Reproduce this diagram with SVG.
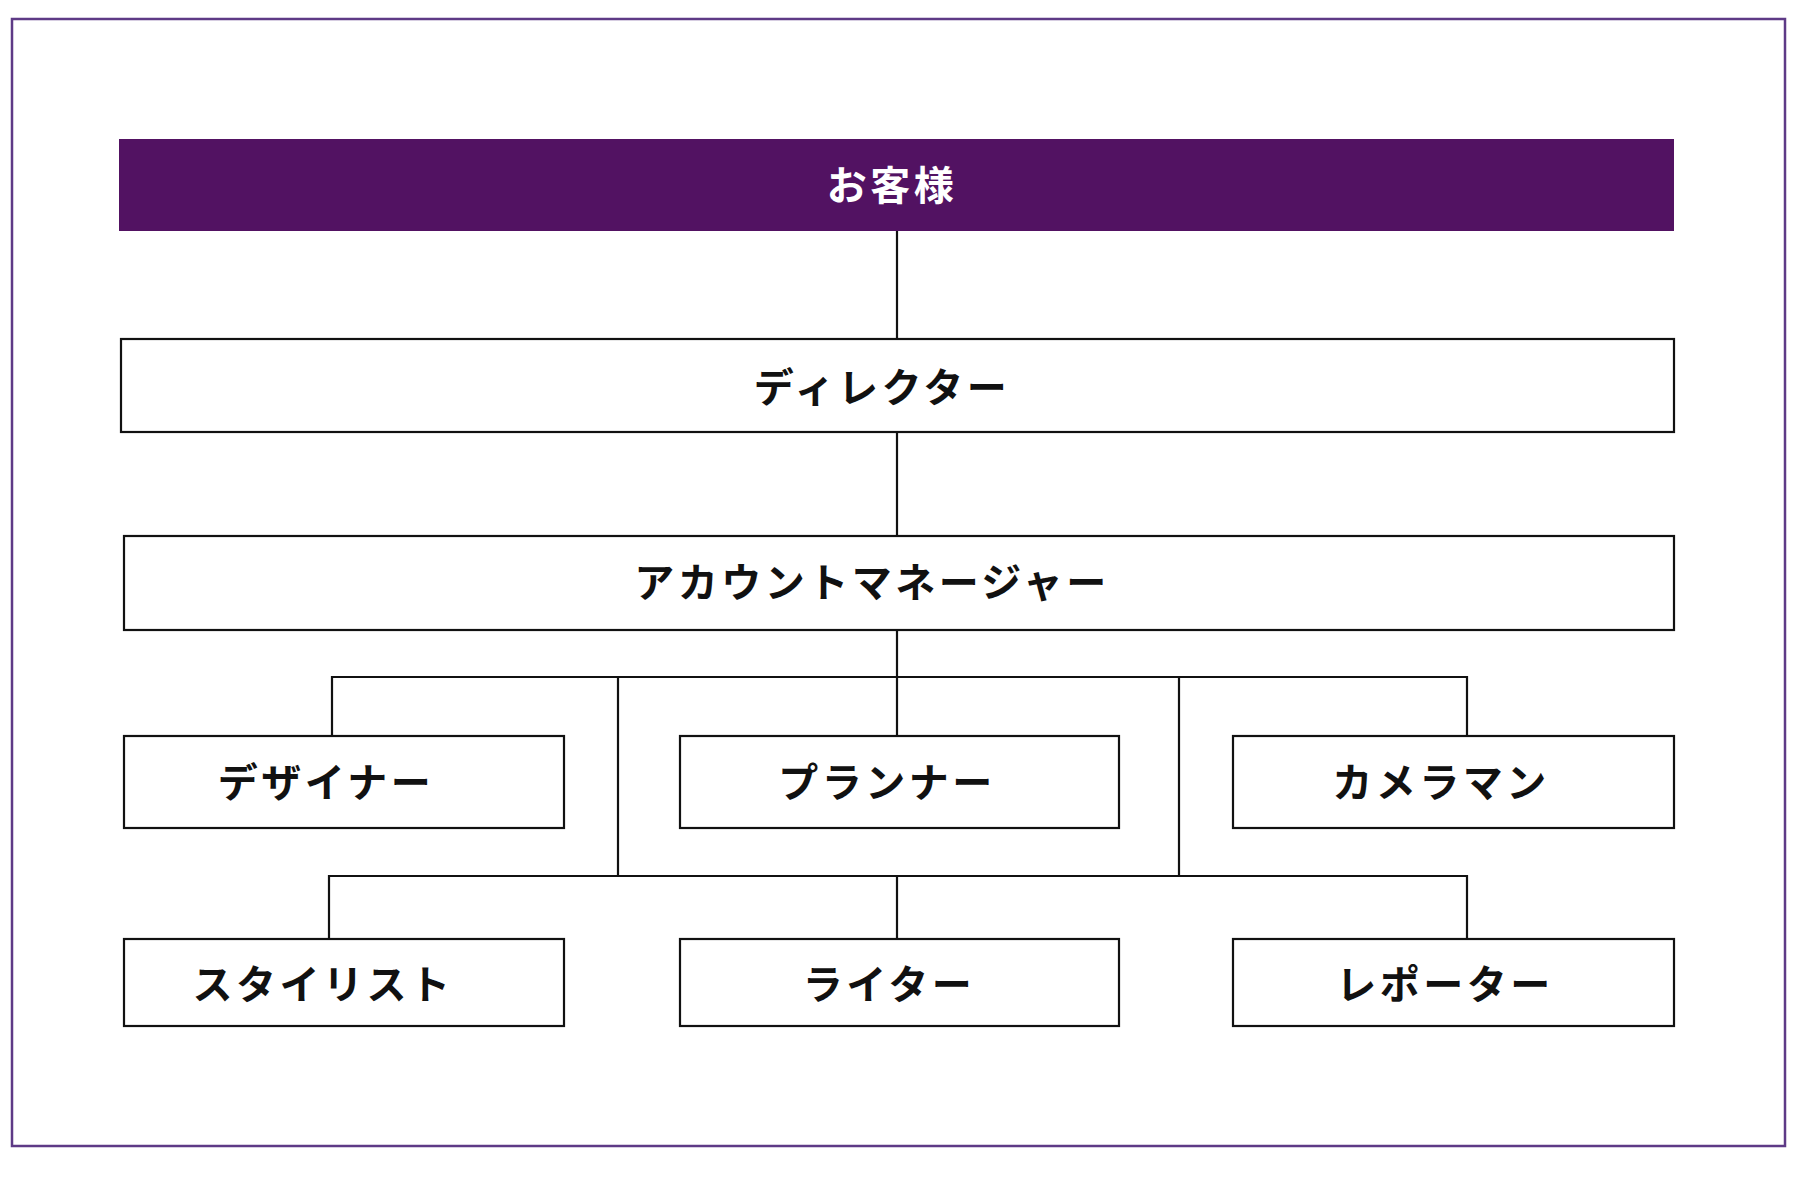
<svg xmlns="http://www.w3.org/2000/svg" width="1800" height="1177" viewBox="0 0 1800 1177">
<style>
.box{fill:#ffffff;stroke:#111111;stroke-width:2.2}
.top{fill:#521262}
.lbl{font-family:"Noto Sans CJK JP","Noto Sans",sans-serif;font-size:40px;font-weight:600;letter-spacing:3.5px;fill:#111111;text-anchor:middle;dominant-baseline:central}
.wlbl{fill:#ffffff;font-weight:700}
.conn{fill:none;stroke:#111111;stroke-width:2.2}
</style>
<rect x="0" y="0" width="1800" height="1177" fill="#ffffff"/>
<rect x="12" y="19" width="1773" height="1127" fill="#ffffff" stroke="#5e3a86" stroke-width="2.5"/>
<g id="connectors">
<path class="conn" d="M897 231V339M897 432V536M897 630V736M332 736V677H1467V736M618 677V876M1179 677V876M329 939V876H1467V939M897 876V939"/>
</g>
<g id="customer">
<rect class="top" x="119" y="139" width="1555" height="92"/>
<text class="lbl wlbl" x="892" y="183">お客様</text>
</g>
<g id="director">
<rect class="box" x="121" y="339" width="1553" height="93"/>
<text class="lbl" x="882" y="385">ディレクター</text>
</g>
<g id="account-manager">
<rect class="box" x="124" y="536" width="1550" height="94"/>
<text class="lbl" x="872" y="580">アカウントマネージャー</text>
</g>
<g id="designer">
<rect class="box" x="124" y="736" width="440" height="92"/>
<text class="lbl" x="326" y="780">デザイナー</text>
</g>
<g id="planner">
<rect class="box" x="680" y="736" width="439" height="92"/>
<text class="lbl" x="887" y="780">プランナー</text>
</g>
<g id="cameraman">
<rect class="box" x="1233" y="736" width="441" height="92"/>
<text class="lbl" x="1441" y="780">カメラマン</text>
</g>
<g id="stylist">
<rect class="box" x="124" y="939" width="440" height="87"/>
<text class="lbl" x="323" y="982">スタイリスト</text>
</g>
<g id="writer">
<rect class="box" x="680" y="939" width="439" height="87"/>
<text class="lbl" x="889" y="982">ライター</text>
</g>
<g id="reporter">
<rect class="box" x="1233" y="939" width="441" height="87"/>
<text class="lbl" x="1445" y="982">レポーター</text>
</g>
</svg>
